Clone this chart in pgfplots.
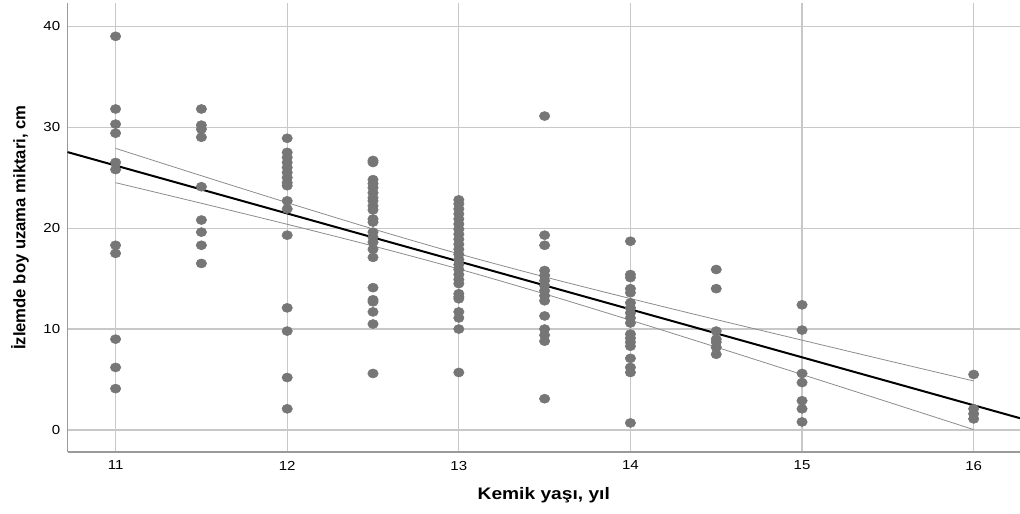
\documentclass[border=0pt]{standalone}
\usepackage{pgfplots}
\pgfplotsset{compat=1.18}
\usepackage{fontspec}
\setmainfont{Liberation Sans}
\newfontfamily\tickfont[FakeStretch=1.15]{Liberation Sans}
\newfontfamily\xlabfont[FakeStretch=1.15]{Liberation Sans}
\definecolor{ptgray}{HTML}{767676}
\definecolor{gridgray}{HTML}{C8C8C8}
\definecolor{axgray}{HTML}{9A9A9A}
\definecolor{bandgray}{HTML}{8C8C8C}
\begin{document}
\begin{tikzpicture}
\begin{axis}[
  scale only axis,
  width=714pt, height=336.75pt,
  xmin=10.72, xmax=16.27,
  ymin=-2.2, ymax=42.3,
  axis x line*=bottom, axis y line*=left,
  axis line style={axgray, line width=1.4pt},
  xtick={11,12,13,14,15,16},
  ytick={0,10,20,30,40},
  major tick length=0pt,
  grid=major,
  major grid style={gridgray, line width=0.85pt},
  /pgf/number format/assume math mode=true,
  tick label style={font=\tickfont\fontsize{9.8}{11}\selectfont, black},
  xticklabel style={yshift=-3pt},
  yticklabel style={xshift=-2pt},
  xlabel={Kemik yaşı, yıl},
  ylabel={İzlemde boy uzama miktari, cm},
  xlabel style={font=\xlabfont\fontsize{12.5}{14}\selectfont\bfseries, at={(axis description cs:0.5,-0.0958)}, anchor=center},
  ylabel style={font=\fontsize{12.5}{14}\selectfont\bfseries, at={(axis description cs:-0.05,0.5)}, anchor=center},
  clip=false,
]
\addplot[only marks, mark=*, mark size=3.4pt, mark options={ptgray, draw=ptgray, fill=ptgray, xscale=1.15}] table {
x y
11 39.0
11 31.8
11 30.3
11 29.4
11 26.5
11 25.8
11 18.3
11 17.5
11 9.0
11 6.2
11 4.1
11.5 31.8
11.5 30.2
11.5 29.8
11.5 29.0
11.5 24.1
11.5 20.8
11.5 19.6
11.5 18.3
11.5 16.5
12 28.9
12 27.5
12 27.0
12 26.5
12 26.0
12 25.5
12 25.0
12 24.5
12 24.2
12 22.7
12 21.9
12 19.3
12 12.1
12 9.8
12 5.2
12 2.1
12.5 26.7
12.5 26.5
12.5 24.8
12.5 24.4
12.5 24.0
12.5 23.5
12.5 23.0
12.5 22.7
12.5 22.2
12.5 21.8
12.5 20.9
12.5 20.6
12.5 19.6
12.5 19.1
12.5 18.6
12.5 17.9
12.5 17.1
12.5 14.1
12.5 12.9
12.5 12.7
12.5 11.7
12.5 10.5
12.5 5.6
13 22.8
13 22.4
13 21.9
13 21.4
13 20.9
13 20.4
13 19.9
13 19.4
13 18.9
13 18.4
13 17.9
13 17.4
13 16.9
13 16.4
13 15.9
13 15.4
13 14.9
13 14.5
13 13.5
13 13.2
13 13.0
13 11.7
13 11.1
13 10.0
13 5.7
13.5 31.1
13.5 19.3
13.5 18.3
13.5 15.8
13.5 15.3
13.5 14.8
13.5 14.3
13.5 13.8
13.5 13.3
13.5 12.8
13.5 11.3
13.5 10.0
13.5 9.4
13.5 8.8
13.5 3.1
14 18.7
14 15.4
14 15.1
14 14.0
14 13.6
14 12.6
14 12.1
14 11.6
14 11.1
14 10.6
14 9.5
14 9.1
14 8.7
14 8.3
14 7.1
14 6.2
14 5.7
14 0.7
14.5 15.9
14.5 14.0
14.5 9.8
14.5 9.0
14.5 8.7
14.5 8.2
14.5 7.5
15 12.4
15 9.9
15 5.6
15 4.7
15 2.9
15 2.1
15 0.8
16 5.5
16 2.1
16 1.6
16 1.1
};
% confidence bands
\addplot[bandgray, line width=0.6pt, smooth] coordinates {
(11,27.9) (11.5,25.19) (12,22.52) (12.5,19.92) (13,17.45) (13.5,15.17) (14,13.02) (14.5,10.94) (15,8.9) (15.5,6.87) (16,4.86)
};
\addplot[bandgray, line width=0.6pt, smooth] coordinates {
(11,24.5) (11.5,22.46) (12,20.38) (12.5,18.23) (13,15.95) (13.5,13.48) (14,10.88) (14.5,8.21) (15,5.5) (15.5,2.78) (16,0.04)
};
% regression line
\addplot[black, line width=1.5pt] coordinates {(10.72,27.53) (16.27,1.17)};
\end{axis}
\pgfresetboundingbox
\useasboundingbox ([xshift=-50.625pt,yshift=-45.75pt]current axis.south west) rectangle ([yshift=2.25pt]current axis.north east);
\end{tikzpicture}
\end{document}
